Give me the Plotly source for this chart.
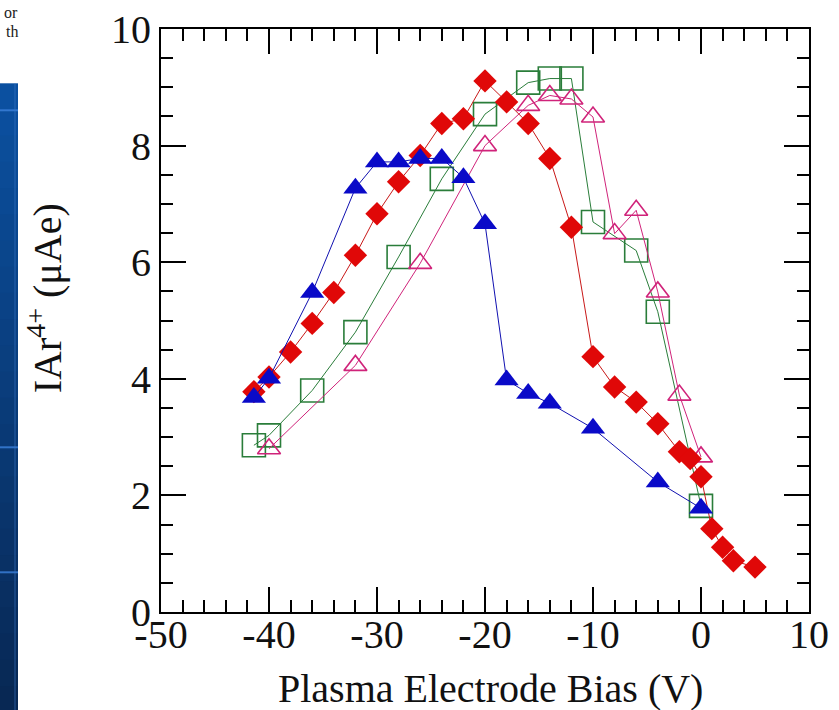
import plotly.graph_objects as go

# ---- data ----
blue_x = [-41.4, -40, -36, -32, -30, -28, -26, -24, -22, -20, -18, -16, -14, -10, -4, 0]
blue_y = [3.68, 4.01, 5.48, 7.27, 7.72, 7.72, 7.78, 7.78, 7.45, 6.66, 3.98, 3.75, 3.58, 3.15, 2.23, 1.78]

red_x = [-41.4, -40, -38, -36, -34, -32, -30, -28, -26, -24, -22, -20, -18, -16, -14, -12,
         -10, -8, -6, -4, -2, -1, 0, 1, 2, 3, 5]
red_y = [3.78, 4.03, 4.46, 4.95, 5.48, 6.12, 6.83, 7.38, 7.83, 8.38, 8.46, 9.11, 8.75, 8.38, 7.78, 6.6,
         4.38, 3.86, 3.6, 3.23, 2.75, 2.63, 2.32, 1.43, 1.11, 0.88, 0.77]

green_x = [-41.4, -40, -36, -32, -28, -24, -20, -16, -14, -12, -10, -6, -4, 0]
green_y = [2.86, 3.03, 3.8, 4.8, 6.09, 7.43, 8.54, 9.08, 9.15, 9.15, 6.69, 6.2, 5.15, 1.82]

mag_x = [-40, -32, -26, -20, -16, -14, -12, -10, -8, -6, -4, -2, 0]
mag_y = [2.8, 4.23, 5.98, 8.0, 8.69, 8.86, 8.8, 8.49, 6.49, 6.89, 5.49, 3.72, 2.66]

x_ticks = [-50, -40, -30, -20, -10, 0, 10]
x_labels = ["-50", "-40", "-30", "-20", "-10", "0", "10"]
y_ticks = [0, 2, 4, 6, 8, 10]
y_labels = ["0", "2", "4", "6", "8", "10"]

FONT = "Liberation Serif, Times New Roman, serif"

fig = go.Figure()
fig.add_trace(go.Scatter(x=green_x, y=green_y, mode="lines+markers",
                         line=dict(color="#2a7d3a", width=1),
                         marker=dict(symbol="square-open", size=23, color="#2a7d3a",
                                     line=dict(width=1.6, color="#2a7d3a"))))
fig.add_trace(go.Scatter(x=mag_x, y=mag_y, mode="lines+markers",
                         line=dict(color="#d0237a", width=1),
                         marker=dict(symbol="triangle-up-open", size=20, color="#d0237a",
                                     line=dict(width=1.6, color="#d0237a"))))
fig.add_trace(go.Scatter(x=red_x, y=red_y, mode="lines+markers",
                         line=dict(color="#c81818", width=1),
                         marker=dict(symbol="diamond", size=18, color="#e00808",
                                     line=dict(width=0))))
fig.add_trace(go.Scatter(x=blue_x, y=blue_y, mode="lines+markers",
                         line=dict(color="#1010b0", width=1),
                         marker=dict(symbol="triangle-up", size=21, color="#0a0ac8",
                                     line=dict(width=0))))

# ---- left slide-background strip (decoration) ----
def px_x(p):
    return (p - 161) / 648.0

def px_y(p):
    return (611.7 - p) / 583.0

top_c = (11, 80, 160)
bot_c = (8, 40, 84)
n = 24
y_top, y_bot = 83, 712
shapes = []
for i in range(n):
    t = i / (n - 1)
    c = tuple(int(round(top_c[k] + (bot_c[k] - top_c[k]) * t)) for k in range(3))
    ya = y_top + (y_bot - y_top) * i / n
    yb = y_top + (y_bot - y_top) * (i + 1) / n + 1
    shapes.append(dict(type="rect", xref="paper", yref="paper",
                       x0=px_x(-2), x1=px_x(18), y0=px_y(yb), y1=px_y(ya),
                       fillcolor="rgb(%d,%d,%d)" % c, line=dict(width=0), layer="above"))
for yy in [110, 447, 572]:
    shapes.append(dict(type="line", xref="paper", yref="paper",
                       x0=px_x(0), x1=px_x(18), y0=px_y(yy), y1=px_y(yy),
                       line=dict(color="rgba(60,130,220,0.8)", width=2)))
shapes.append(dict(type="line", xref="paper", yref="paper",
                   x0=px_x(15), x1=px_x(15), y0=px_y(y_bot), y1=px_y(y_top),
                   line=dict(color="rgba(60,120,200,0.6)", width=1)))

annotations = [
    dict(text="or", x=px_x(20), y=px_y(12), xref="paper", yref="paper",
         xanchor="right", yanchor="middle", showarrow=False,
         font=dict(family="Liberation Serif", size=16, color="#222")),
    dict(text="th", x=px_x(20), y=px_y(31), xref="paper", yref="paper",
         xanchor="right", yanchor="middle", showarrow=False,
         font=dict(family="Liberation Serif", size=16, color="#222")),
    dict(text="IAr<sup>4+</sup> (μAe)", x=px_x(45), y=px_y(298), xref="paper", yref="paper",
         xanchor="center", yanchor="middle", textangle=-90, showarrow=False,
         font=dict(family=FONT, size=40, color="#111")),
    dict(text="Plasma Electrode Bias (V)", x=px_x(490), y=px_y(688), xref="paper", yref="paper",
         xanchor="center", yanchor="middle", showarrow=False,
         font=dict(family=FONT, size=40, color="#111")),
]

axis_common = dict(showline=True, linecolor="black", linewidth=2, mirror="ticks",
                   ticks="inside", tickcolor="black", tickwidth=2, ticklen=25,
                   showgrid=False, zeroline=False, automargin=False,
                   tickfont=dict(family=FONT, size=40, color="#111"))

fig.update_layout(
    width=839, height=710,
    margin=dict(l=161, r=30, t=29, b=98),
    paper_bgcolor="white", plot_bgcolor="white",
    showlegend=False,
    xaxis=dict(range=[-50, 10], tickvals=x_ticks, ticktext=x_labels, ticklabelstandoff=-14,
               minor=dict(dtick=2, ticks="inside", ticklen=12, tickwidth=2, tickcolor="black"),
               **axis_common),
    yaxis=dict(range=[0, 10], tickvals=y_ticks, ticktext=y_labels,
               minor=dict(dtick=0.5, ticks="inside", ticklen=12, tickwidth=2, tickcolor="black"),
               **axis_common),
    shapes=shapes,
    annotations=annotations,
)

fig.write_html("out.html", config={"displayModeBar": False},
               post_script="document.body.style.margin='0';")
